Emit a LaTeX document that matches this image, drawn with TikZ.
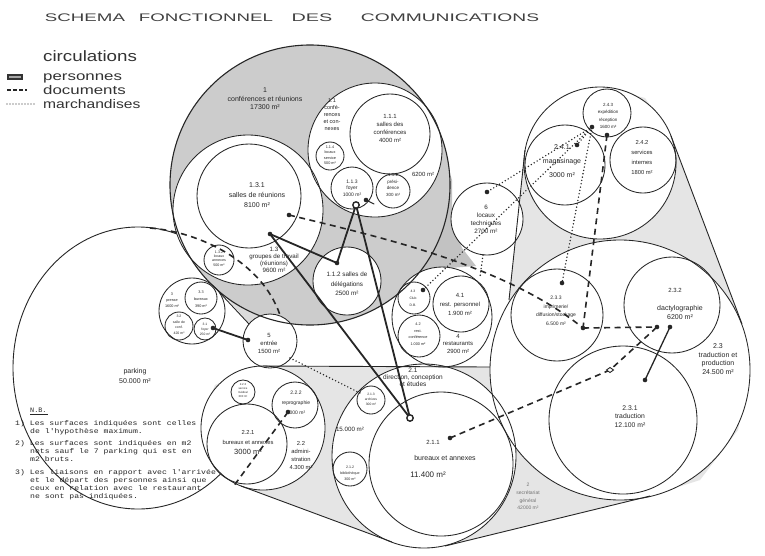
\documentclass[tikz,border=0pt]{standalone}
\usepackage{fontspec}
\setmainfont{Liberation Sans}
\newfontfamily\monofnt{Liberation Mono}
\newcommand{\fzz}[2]{\fontsize{#1}{#2}\selectfont}
\newcommand{\bubbles}[1]{%
  \path[#1] (375,150) circle[radius=67pt];
  \path[#1] (390,134) circle[radius=40pt];
  \path[#1] (330,156) circle[radius=14pt];
  \path[#1] (352,188) circle[radius=21pt];
  \path[#1] (393,191) circle[radius=17pt];
  \path[#1] (248,210) circle[radius=75pt];
  \path[#1] (249,196) circle[radius=52pt];
  \path[#1] (219,260) circle[radius=15pt];
  \path[#1] (347,281) circle[radius=34pt];
  \path[#1] (192,311) circle[radius=33pt];
  \path[#1] (201,298) circle[radius=16pt];
  \path[#1] (179,326) circle[radius=14pt];
  \path[#1] (205,329) circle[radius=11pt];
  \path[#1] (270,341) circle[radius=27pt];
  \path[#1] (487,219) circle[radius=36pt];
  \path[#1] (442,317) circle[radius=50pt];
  \path[#1] (461,304) circle[radius=28pt];
  \path[#1] (414,298) circle[radius=16pt];
  \path[#1] (419,336) circle[radius=21pt];
  \path[#1] (600,163) circle[radius=76pt];
  \path[#1] (565,165) circle[radius=40pt];
  \path[#1] (607,113) circle[radius=24pt];
  \path[#1] (643,160) circle[radius=33pt];
  \path[#1] (620,370) circle[radius=130pt];
  \path[#1] (623,420) circle[radius=74pt];
  \path[#1] (672,305) circle[radius=48pt];
  \path[#1] (557,315) circle[radius=46pt];
  \path[#1] (424,456) circle[radius=92pt];
  \path[#1] (441,464) circle[radius=72pt];
  \path[#1] (350,469) circle[radius=17pt];
  \path[#1] (371,400) circle[radius=14pt];
  \path[#1] (263,428) circle[radius=62pt];
  \path[#1] (247,444) circle[radius=40pt];
  \path[#1] (295,405) circle[radius=23pt];
  \path[#1] (243,392) circle[radius=12pt];
}
\tikzset{
  bub/.style={draw=black!85, line width=0.85pt},
  bubfill/.style={fill=white, draw=none},
  lbl/.style={inner sep=0pt, align=center, text=black!85},
  pers/.style={draw=black!85, line width=1.8pt, line cap=round},
  docs/.style={draw=black!85, line width=1.6pt, dash pattern=on 6pt off 4.5pt},
  march/.style={draw=black!85, line width=1.6pt, dash pattern=on 0pt off 3.4pt, line cap=round},
  envline/.style={draw=black!85, line width=0.9pt},
  blob/.style={fill=black!85},
  nbtext/.style={anchor=base west, inner sep=0pt, font=\monofnt\fzz{6.8}{6.8}, text=black!85},
  hand/.style={anchor=base west, inner sep=0pt, text=black!80},
}
\begin{document}
\begin{tikzpicture}[x=1pt, y=-1pt]
\useasboundingbox (0,0) rectangle (765,555);
\fill[white] (0,0) rectangle (765,555);

% parking
\draw[bub, line width=0.9pt] (138,368) ellipse[x radius=125pt, y radius=141pt];

% grey envelope of group 2
\fill[black!10] (263,366) -- (490,367) -- (509,300) -- (525,150) -- (560,98) -- (600,87) -- (645,98) -- (671,136) -- (742,324) -- (750,370) -- (738,430) -- (700,480) -- (650,496) -- (445,546) -- (420,548) -- (392,542) -- (241,486) -- (210,455) -- (201,420) -- (215,385) -- cycle;
\fill[black!24] (440,140) -- (452,180) -- (452,219) -- (462,248) -- (476,266) -- (450,268) -- (420,272) -- (405,262) -- cycle;
\fill[black!14] (205,278) -- (222,293) -- (249,323) -- (270,316) -- (300,323) -- (290,300) -- (240,280) -- cycle;

% circle 1 (grey)
\fill[black!20] (310,185) circle[radius=140pt];

% white bubbles, then outlines
\bubbles{bubfill}
\draw[bub, line width=1.1pt] (310,185) circle[radius=140pt];
\bubbles{bub}

% envelope lines
\coordinate (e22t) at (263,366); \coordinate (e23l) at (490,367);
\coordinate (e24l) at (525,150); \coordinate (e23lt) at (509,300);
\coordinate (e24r) at (671,136); \coordinate (e23r) at (742,324);
\coordinate (e23b) at (650,496); \coordinate (e21b) at (445,546);
\coordinate (e21bl) at (392,542); \coordinate (e22b) at (241,486);
\coordinate (e3) at (220,293); \coordinate (e5) at (249,324);
\draw[envline] (e22t) -- (e23l);
\draw[envline] (e24l) -- (e23lt);
\draw[envline] (e24r) -- (e23r);
\draw[envline] (e23b) -- (e21b);
\draw[envline] (e21bl) -- (e22b);
\draw[envline] (e3) -- (e5);

% connector points
\coordinate (d131) at (270,234);
\coordinate (d131b) at (289,215);
\coordinate (ddel) at (337,263);
\coordinate (dfoy) at (356,205);
\coordinate (d113b) at (366,200);
\coordinate (d112) at (374,204);
\coordinate (d211) at (410,418);
\coordinate (d211b) at (450,438);
\coordinate (d31) at (213,328);
\coordinate (d5) at (248,340);
\coordinate (d232) at (670,327);
\coordinate (d231) at (645,380);
\coordinate (d233) at (583,328);
\coordinate (d232b) at (657,327);
\coordinate (d233t) at (562,283);
\coordinate (d243a) at (592,127);
\coordinate (d243b) at (607,135);
\coordinate (d241) at (577,145);
\coordinate (d6) at (487,192);
\coordinate (d43) at (423,290);
\coordinate (d222) at (288,412);
\coordinate (e222) at (233,487);
\coordinate (dmark) at (610,370);
\coordinate (dpk) at (150,228);
\coordinate (d5t) at (280,315);
\coordinate (d6b) at (483,255);
\coordinate (d41t) at (480,277);
\coordinate (d5r) at (290,358);
\coordinate (d213) at (360,393);

% personnes
\draw[pers] (d131) -- (ddel) -- (dfoy);
\draw[pers] (dfoy) -- (d211);
\draw[pers] (d131) -- (d211);
\draw[pers] (d31) -- (d5);
\draw[pers, line width=1.3pt] (d232) -- (d231);
\draw[pers, line width=1pt] (d113b) -- (d112);
% documents
\draw[docs] (d131b) .. controls (380,237) and (505,265) .. (d233);
\draw[docs] (d233) -- (d232b);
\draw[docs] (d211b) -- (dmark) -- (d232b);
\draw[docs] (d222) -- (e222);
\draw[docs] (dpk) .. controls (200,232) and (262,262) .. (d5t);
\draw[docs] (d243b) -- (d233);
% marchandises
\draw[march] (d243a) -- (d6);
\draw[march] (d243a) -- (d241);
\draw[march] (d243a) -- (d43);
\draw[march] (d243a) -- (d233t);
\draw[march] (d6b) -- (d41t);
\draw[march] (d5r) -- (d213);

\foreach \p in {d131,d131b,ddel,d113b,d211b,d31,d5,d232,d231,d233,d232b,d233t,d243a,d243b,d241,d6,d43,d222}
  \fill[blob] (\p) circle[radius=2.3pt];
\draw[line width=1.4pt, draw=black!85, fill=white] (dfoy) circle[radius=3.2pt];
\draw[line width=1.4pt, draw=black!85, fill=white] (d211) circle[radius=3.2pt];
\draw[line width=0.9pt, draw=black!85, fill=white] (dmark) +(-3.5,0) -- +(0,-2.5) -- +(3.5,0) -- +(0,2.5) -- cycle;

% labels
\node[lbl, font=\fzz{7}{8.5}] (l1) at (265,99) {1\\conférences et réunions\\17300 m²};
\node[lbl, font=\fzz{5.5}{7}] (l11) at (332,115) {1.1\\confé-\\rences\\et con-\\nexes};
\node[lbl, font=\fzz{6}{8}] (l111) at (390,128) {1.1.1\\salles des\\conférences\\4000 m²};
\node[lbl, font=\fzz{6}{6}] (l11a) at (423,174) {6200 m²};
\node[lbl, font=\fzz{3.8}{5.5}] (l114) at (330,155) {1.1.4\\locaux\\service\\500 m²};
\node[lbl, font=\fzz{5}{6.5}] (l113) at (352,188) {1.1.3\\foyer\\1000 m²};
\node[lbl, font=\fzz{4.5}{6.5}] (l112) at (393,185) {1.1.2\\prési-\\dence\\300 m²};
\node[lbl, font=\fzz{7}{10}] (l131) at (257,195) {1.3.1\\salles de réunions\\8100 m²};
\node[lbl, font=\fzz{3.6}{4.3}] (l132) at (219,258.5) {1.3.2\\locaux\\annexes\\500 m²};
\node[lbl, font=\fzz{6.2}{7}] (l13) at (274,260) {1.3\\groupes de travail\\(réunions)\\9600 m²};
\node[lbl, font=\fzz{6.3}{9.5}] (l115) at (347,284) {1.1.2 salles de\\délégations\\2500 m²};
\node[lbl, font=\fzz{3.8}{6}] (l3) at (172,300) {3\\presse\\1600 m²};
\node[lbl, font=\fzz{3.8}{7}] (l33) at (201,299) {3.3\\bureaux\\390 m²};
\node[lbl, font=\fzz{3.5}{5.5}] (l32) at (179,325) {3.2\\salle de\\conf.\\420 m²};
\node[lbl, font=\fzz{3.3}{5}] (l31) at (205,329) {3.1\\foyer\\250 m²};
\node[lbl, font=\fzz{6}{8}] (l5) at (269,343) {5\\entrée\\1500 m²};
\node[lbl, font=\fzz{7}{10.5}] (lpark) at (135,376) {parking\\50.000 m²};
\node[lbl, font=\fzz{6.3}{8}] (l6) at (486,219) {6\\locaux\\techniques\\2700 m²};
\node[lbl, font=\fzz{4.5}{7.5}] (l243) at (608,116) {2.4.3\\expédition\\réception\\1600 m²};
\node[lbl, font=\fzz{7}{14}] (l241) at (562,161) {2.4.1\\magasinage\\3000 m²};
\node[lbl, font=\fzz{5.8}{10}] (l242) at (642,157) {2.4.2\\services\\internes\\1800 m²};
\node[lbl, font=\fzz{5}{8.5}] (l233) at (556,311) {2.3.3\\imprimerie/\\diffusion/stockage\\6.500 m²};
\node[lbl, font=\fzz{6}{6}] (l232a) at (675,290) {2.3.2};
\node[lbl, font=\fzz{7}{9}] (l232) at (680,312.5) {dactylographie\\6200 m²};
\node[lbl, font=\fzz{7}{8.5}] (l23) at (718,359) {2.3\\traduction et\\production\\24.500 m²};
\node[lbl, font=\fzz{6.8}{8.5}] (l231) at (630,416.5) {2.3.1\\traduction\\12.100 m²};
\node[lbl, font=\fzz{5}{7.7}, text=black!55] (l2) at (528,496.5) {2\\secrétariat\\général\\42000 m²};
\node[lbl, font=\fzz{6}{7.5}] (l4) at (458,343.5) {4\\restaurants\\2900 m²};
\node[lbl, font=\fzz{6}{9}] (l41) at (460,304) {4.1\\rest. personnel\\1.900 m²};
\node[lbl, font=\fzz{3.4}{7}] (l43) at (413,298) {4.3\\Club\\D.B.};
\node[lbl, font=\fzz{3.8}{6.5}] (l42) at (418,334) {4.2\\rest.\\conférence\\1.000 m²};
\node[lbl, font=\fzz{6.5}{7}] (l21) at (413,377.5) {2.1\\direction, conception\\et études};
\node[lbl, font=\fzz{6.2}{6.2}] (l21a) at (350,429) {15.000 m²};
\node[lbl, font=\fzz{3.3}{5}] (l213) at (371,399) {2.1.3\\archives\\300 m²};
\node[lbl, font=\fzz{3.6}{5.8}] (l212) at (350,473) {2.1.2\\bibliothèque\\300 m²};
\node[lbl, font=\fzz{6}{6}] (l211a) at (433,442) {2.1.1};
\node[lbl, font=\fzz{7}{7}] (l211b) at (445,458) {bureaux et annexes};
\node[lbl, font=\fzz{8}{8}] (l211c) at (428,475) {11.400 m²};
\node[lbl, font=\fzz{5.8}{8}] (l22) at (301,455) {2.2\\admini-\\stration\\4.300 m²};
\node[lbl, font=\fzz{2.8}{4}] (l223) at (243,391) {2.2.3\\service\\médical\\300 m²};
\node[lbl, font=\fzz{5}{10}] (l222) at (296,403) {2.2.2\\reprographie\\1000 m²};
\node[lbl, font=\fzz{5.8}{10}] (l221) at (248,443) {2.2.1\\bureaux et annexes\\{\fzz{7.5}{10}3000 m²}};

% title
\node[lbl, font=\fzz{11}{11}, text=black!75] (t1) at (85,18) {\scalebox{1.7}[1]{SCHEMA}};
\node[lbl, font=\fzz{11}{11}, text=black!75] (t2) at (206,18) {\scalebox{1.7}[1]{FONCTIONNEL}};
\node[lbl, font=\fzz{11}{11}, text=black!75] (t3) at (312,18) {\scalebox{1.8}[1]{DES}};
\node[lbl, font=\fzz{11}{11}, text=black!75] (t4) at (450,18) {\scalebox{1.75}[1]{COMMUNICATIONS}};

% legend
\node[hand, font=\fzz{15}{15}] (lgc) at (43,61) {\scalebox{1.25}[1]{circulations}};
\node[hand, font=\fzz{12.5}{12.5}] (lgp) at (43,80) {\scalebox{1.35}[1]{personnes}};
\node[hand, font=\fzz{12.5}{12.5}] (lgd) at (43,94) {\scalebox{1.35}[1]{documents}};
\node[hand, font=\fzz{12.5}{12.5}] (lgm) at (43,108) {\scalebox{1.25}[1]{marchandises}};
\fill[black!80] (7,74) rectangle (23,80);
\fill[black!35] (9,76) rectangle (21,78);
\draw[black!85, line width=1.3pt, dash pattern=on 3.5pt off 2.5pt] (7,90) -- (27,90);
\draw[black!85, line width=1.2pt, dash pattern=on 0pt off 3pt, line cap=round] (7,104) -- (37,104);

% N.B.
\node[nbtext] (nb0) at (30,412) {N.B.};
\draw[black!85, line width=0.6pt] (30,414) -- (48,414);
\node[nbtext] (nb1) at (15,425) {\scalebox{1.2}[1]{1) Les surfaces indiquées sont celles}};
\node[nbtext] (nb2) at (30,433) {\scalebox{1.2}[1]{de l'hypothèse maximum.}};
\node[nbtext] (nb3) at (15,445) {\scalebox{1.2}[1]{2) Les surfaces sont indiquées en m2}};
\node[nbtext] (nb4) at (30,453) {\scalebox{1.2}[1]{nets sauf le 7 parking qui est en}};
\node[nbtext] (nb5) at (30,461) {\scalebox{1.2}[1]{m2 bruts.}};
\node[nbtext] (nb6) at (15,474) {\scalebox{1.2}[1]{3) Les liaisons en rapport avec l'arrivée}};
\node[nbtext] (nb7) at (30,482) {\scalebox{1.2}[1]{et le départ des personnes ainsi que}};
\node[nbtext] (nb8) at (30,490) {\scalebox{1.2}[1]{ceux en relation avec le restaurant}};
\node[nbtext] (nb9) at (30,498) {\scalebox{1.2}[1]{ne sont pas indiquées.}};
\end{tikzpicture}
\end{document}
